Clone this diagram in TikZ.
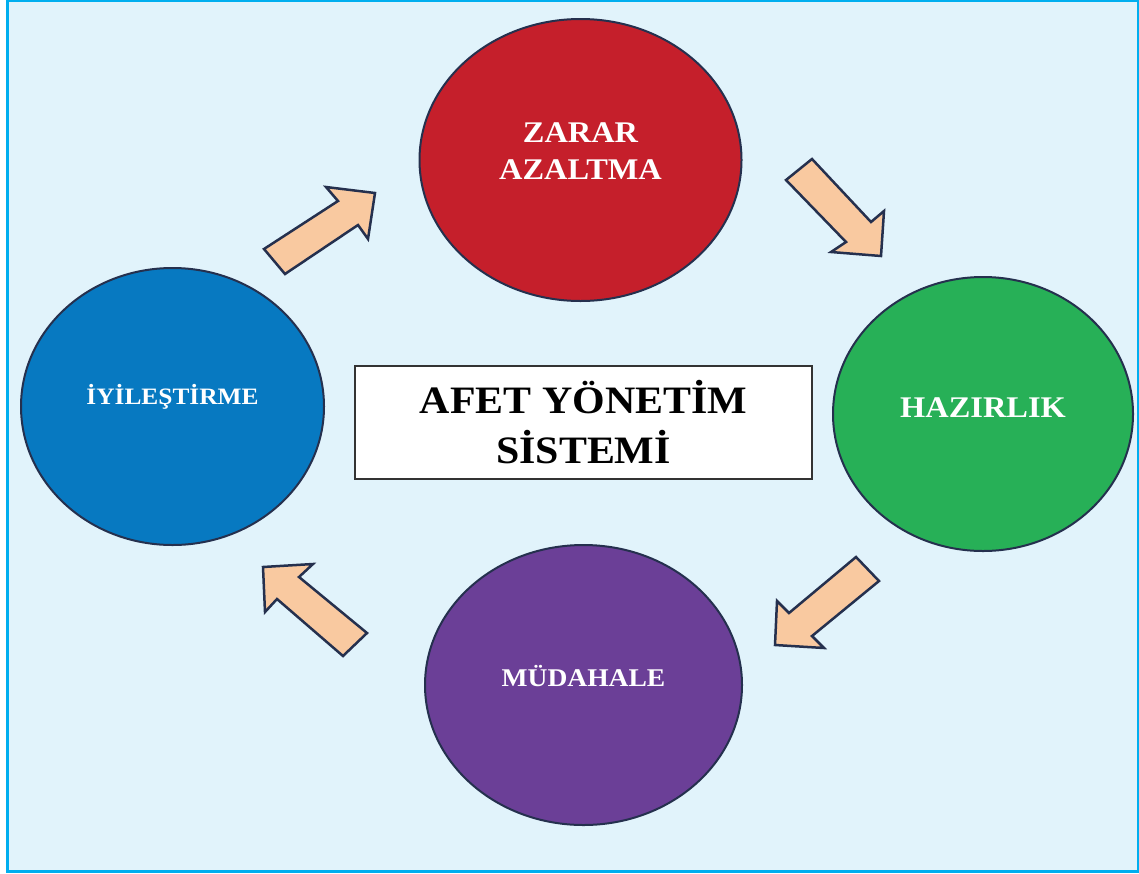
\documentclass[tikz,border=0pt]{standalone}
\usepackage{fontspec}
\setmainfont{Liberation Serif}
\newfontfamily\lblfont[FakeStretch=1.08]{Liberation Serif}
\usepackage{xcolor}
\usetikzlibrary{shapes.geometric,positioning}
\definecolor{bgblue}{HTML}{E1F3FB}
\definecolor{frame}{HTML}{00AEEF}
\definecolor{outline}{HTML}{25304E}
\definecolor{phred}{HTML}{C51F2B}
\definecolor{phgreen}{HTML}{27B057}
\definecolor{phblue}{HTML}{0779C1}
\definecolor{phpurple}{HTML}{6B3F97}
\definecolor{peach}{HTML}{F9C9A0}

\begin{document}
\begin{tikzpicture}[x=1pt,y=-1pt,
    phase/.style={ellipse,draw=outline,line width=2pt,inner sep=0pt},
    phaselbl/.style={text=white,align=center,inner sep=0pt},
    flowarrow/.style={draw=outline,fill=peach,line width=2.5pt}
  ]
  \useasboundingbox (0,0) rectangle (1139,873);
  % Frame
  \fill[bgblue] (7.3,1.2) rectangle (1137.8,871.5);
  \draw[frame,line width=2.5pt] (7.3,1.2) rectangle (1137.8,871.5);
  % Phases
  \node[phase,fill=phred,minimum width=322pt,minimum height=282pt] (zarar) at (580.5,160) {};
  \node[phase,fill=phgreen,minimum width=300pt,minimum height=274pt] (hazir) at (983,414) {};
  \node[phase,fill=phpurple,minimum width=317pt,minimum height=280pt] (mudah) at (583.5,685) {};
  \node[phase,fill=phblue,minimum width=303pt,minimum height=277pt] (iyiles) at (172.5,406.5) {};
  \node[phaselbl,font=\lblfont\bfseries\fontsize{30}{37}\selectfont] (zararT) at ([yshift=8.5pt]zarar.center) {ZARAR\\AZALTMA};
  \node[phaselbl,font=\lblfont\bfseries\fontsize{30}{36}\selectfont] (hazirT) at ([yshift=6.5pt]hazir.center) {HAZIRLIK};
  \node[phaselbl,font=\lblfont\bfseries\fontsize{25.5}{31}\selectfont] (mudahT) at ([yshift=9pt]mudah.center) {MÜDAHALE};
  \node[phaselbl,font=\lblfont\bfseries\fontsize{23.5}{29}\selectfont] (iyilesT) at ([yshift=10pt]iyiles.center) {İYİLEŞTİRME};
  % Centre box
  \node[draw=black!80,fill=white,line width=1.8pt,minimum width=457pt,minimum height=113pt,
    align=center,font=\lblfont\bfseries\fontsize{38.8}{50}\selectfont] (afet) at (583.5,422.5) {AFET YÖNETİM\\SİSTEMİ};
  % Cycle arrows
  \draw[flowarrow] (264,249) -- (338,201) -- (326,187) -- (375,193) -- (368,239) -- (358,225) -- (285,274) -- cycle;
  \draw[flowarrow] (812,159) -- (871,222) -- (884,211) -- (881,256) -- (831,252) -- (846,242) -- (786,180) -- cycle;
  \draw[flowarrow] (879,581) -- (812,636) -- (824,648) -- (775,645) -- (777,601) -- (789,613) -- (856,557) -- cycle;
  \draw[flowarrow] (367,633) -- (299,577) -- (313,564) -- (263,567) -- (265,612) -- (277,599) -- (343,656) -- cycle;
\end{tikzpicture}
\end{document}
